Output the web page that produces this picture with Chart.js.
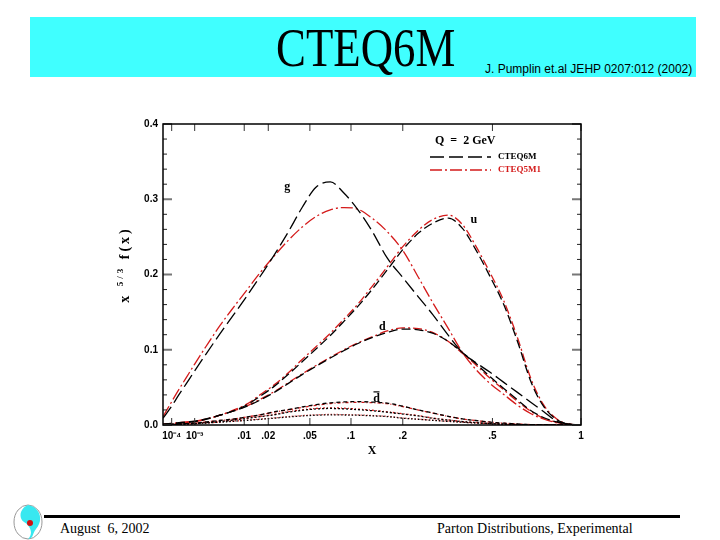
<!DOCTYPE html>
<html>
<head>
<meta charset="utf-8">
<script src="https://cdn.jsdelivr.net/npm/chart.js@4.4.1/dist/chart.umd.min.js"></script>
<style>
body{margin:0;background:#fff;width:720px;height:540px;position:relative;overflow:hidden;font-family:'Liberation Serif','Times New Roman',serif}
#banner{position:absolute;left:30px;top:17px;width:666px;height:60px;background:#40ffff}
#title{position:absolute;left:276px;top:21px;font-size:54px;line-height:54px;white-space:nowrap;transform:scaleX(0.83);transform-origin:left top}
#cite{position:absolute;left:485px;top:63px;font-family:'Liberation Sans',Arial,sans-serif;font-size:12px;line-height:12px;white-space:nowrap}
#rule{position:absolute;left:44px;top:515px;width:636px;height:3px;background:#000}
#date{position:absolute;left:60px;top:522px;font-size:14px;line-height:14px;white-space:pre}
#foot{position:absolute;left:437px;top:522px;font-size:14px;line-height:14px;white-space:nowrap}
#logo{position:absolute;left:10px;top:502px}
#wrap{position:absolute;left:100px;top:110px;width:490px;height:350px}
</style>
</head>
<body>
<div id="banner"></div>
<div id="title">CTEQ6M</div>
<div id="cite">J. Pumplin et.al JEHP 0207:012 (2002)</div>
<svg id="logo" width="36" height="40" viewBox="0 0 36 40">
  <ellipse cx="18" cy="20" rx="14" ry="17" fill="none" stroke="#999" stroke-width="1"/>
  <path d="M18 3 C30 5 34 18 26 27 C22 32 24 36 18 37 C25 30 18 22 14 20 C8 16 10 6 18 3 Z" fill="#38e8f0"/>
  <circle cx="20" cy="21" r="3" fill="#d01010"/>
</svg>
<div id="rule"></div>
<div id="date">August  6, 2002</div>
<div id="foot">Parton Distributions, Experimental</div>
<div id="wrap"><canvas id="mycanvas"></canvas></div>
<script>
// x sample points (momentum fraction)
var xs = [1.8e-5, 1e-4, 2.5e-4, 5e-4, 1e-3, 2e-3, 4e-3, 7e-3, 0.011, 0.016, 0.023, 0.032, 0.043, 0.056, 0.072, 0.09, 0.11,
          0.135, 0.165, 0.2, 0.24, 0.28, 0.33, 0.38, 0.43, 0.49, 0.55, 0.62, 0.69, 0.76, 0.84, 0.92, 1];

// x^(5/3) f(x) at Q = 2 GeV
var g6M  = [0.009, 0.025, 0.040, 0.054, 0.072, 0.094, 0.121, 0.147, 0.172, 0.197, 0.225, 0.256, 0.289, 0.316, 0.323, 0.308, 0.287,
            0.258, 0.222, 0.196, 0.170, 0.147, 0.119, 0.096, 0.083, 0.070, 0.057, 0.043, 0.030, 0.018, 0.005, 0.001, 0];
var g5M1 = [0.011, 0.031, 0.047, 0.062, 0.081, 0.104, 0.132, 0.157, 0.180, 0.202, 0.224, 0.245, 0.263, 0.277, 0.286, 0.289, 0.287,
            0.275, 0.257, 0.232, 0.196, 0.163, 0.128, 0.096, 0.074, 0.055, 0.041, 0.026, 0.015, 0.008, 0.003, 0.0005, 0];
var u6M  = [0.001, 0.002, 0.003, 0.004, 0.005, 0.008, 0.013, 0.019, 0.027, 0.038, 0.051, 0.067, 0.084, 0.101, 0.119, 0.138, 0.157,
            0.180, 0.206, 0.233, 0.255, 0.268, 0.275, 0.261, 0.233, 0.197, 0.161, 0.110, 0.057, 0.025, 0.007, 0.001, 0];
var u5M1 = [0.001, 0.002, 0.003, 0.004, 0.005, 0.008, 0.013, 0.020, 0.028, 0.040, 0.053, 0.069, 0.087, 0.104, 0.122, 0.141, 0.160,
            0.184, 0.210, 0.237, 0.259, 0.273, 0.279, 0.266, 0.238, 0.202, 0.166, 0.115, 0.061, 0.027, 0.008, 0.001, 0];
var d6M  = [0.0008, 0.0015, 0.0023, 0.0032, 0.0045, 0.0075, 0.013, 0.0186, 0.025, 0.033, 0.043, 0.055, 0.067, 0.078, 0.089, 0.099, 0.108,
            0.116, 0.123, 0.1275, 0.1265, 0.122, 0.111, 0.096, 0.082, 0.064, 0.049, 0.033, 0.019, 0.010, 0.004, 0.001, 0];
var d5M1 = [0.0008, 0.0015, 0.0023, 0.0032, 0.0045, 0.0075, 0.013, 0.019, 0.0255, 0.034, 0.044, 0.056, 0.068, 0.079, 0.090, 0.100, 0.109,
            0.117, 0.125, 0.129, 0.128, 0.123, 0.111, 0.095, 0.080, 0.062, 0.047, 0.031, 0.018, 0.009, 0.0035, 0.0008, 0];
var dbar6M  = [0.0005, 0.001, 0.0014, 0.0019, 0.0025, 0.004, 0.006, 0.008, 0.0108, 0.0135, 0.0173, 0.0205, 0.024, 0.027, 0.0295, 0.0307, 0.031,
               0.0305, 0.029, 0.025, 0.020, 0.016, 0.0115, 0.008, 0.006, 0.0038, 0.0025, 0.0013, 0.0006, 0.0002, 0.0001, 0, 0];
var dbar5M1 = [0.0005, 0.001, 0.0014, 0.0019, 0.0025, 0.004, 0.006, 0.008, 0.0108, 0.0135, 0.017, 0.020, 0.0233, 0.0262, 0.0285, 0.0297, 0.030,
               0.0297, 0.0283, 0.0245, 0.0198, 0.0158, 0.0114, 0.008, 0.006, 0.0038, 0.0025, 0.0013, 0.0006, 0.0002, 0.0001, 0, 0];
var ubar6M  = [0.0004, 0.0008, 0.0011, 0.0015, 0.002, 0.003, 0.0045, 0.0068, 0.009, 0.011, 0.0135, 0.017, 0.0195, 0.0213, 0.022, 0.0215, 0.0205,
               0.019, 0.017, 0.0145, 0.012, 0.009, 0.0065, 0.0045, 0.0032, 0.0019, 0.0011, 0.0006, 0.0002, 0.0001, 0, 0, 0];
var ubar5M1 = [0.0004, 0.0008, 0.0011, 0.0015, 0.002, 0.003, 0.0047, 0.007, 0.0093, 0.0114, 0.014, 0.0176, 0.0202, 0.022, 0.0228, 0.0223, 0.0212,
               0.0196, 0.0175, 0.015, 0.0124, 0.0093, 0.0067, 0.0046, 0.0033, 0.002, 0.0011, 0.0006, 0.0002, 0.0001, 0, 0, 0];
var s6M  = [0.0004, 0.0007, 0.0009, 0.0012, 0.0018, 0.0026, 0.0038, 0.005, 0.0062, 0.0075, 0.009, 0.0107, 0.012, 0.013, 0.0135, 0.0133, 0.013,
            0.0122, 0.0112, 0.009, 0.0076, 0.0062, 0.0048, 0.0036, 0.0027, 0.0018, 0.0011, 0.0006, 0.0002, 0.0001, 0, 0, 0];
var s5M1 = [0.0004, 0.0007, 0.0009, 0.0012, 0.0018, 0.0027, 0.004, 0.0052, 0.0065, 0.0078, 0.0094, 0.0111, 0.0125, 0.0135, 0.014, 0.0138, 0.0134,
            0.0126, 0.0115, 0.0093, 0.0078, 0.0064, 0.0049, 0.0037, 0.0027, 0.0018, 0.0011, 0.0006, 0.0002, 0.0001, 0, 0, 0];

var xTickVals = [1e-4, 1e-3, 0.01, 0.02, 0.05, 0.1, 0.2, 0.5, 1];
var xTickLabels = ['10\u207B\u2074', '10\u207B\u00B3', '.01', '.02', '.05', '.1', '.2', '.5', '1'];
var xMin = 1.8e-5;

var black = '#000000';
var red = '#d41a1a';

// x axis is linear in x^(1/3)
function pts(arr) {
  return xs.map(function (x, i) { return {x: Math.cbrt(x), y: arr[i]}; });
}

function line(label, arr, color, dash) {
  return {
    label: label, data: pts(arr), borderColor: color, borderDash: dash,
    borderWidth: 1.3, pointRadius: 0, fill: false,
    cubicInterpolationMode: 'monotone'
  };
}

var datasets = [
  line('g CTEQ6M', g6M, black, [14, 5]),
  line('u CTEQ6M', u6M, black, [9, 4]),
  line('d CTEQ6M', d6M, black, [9, 4]),
  line('dbar CTEQ6M', dbar6M, black, [4, 3]),
  line('ubar CTEQ6M', ubar6M, black, [2, 2]),
  line('s CTEQ6M', s6M, black, [1.5, 2]),
  line('g CTEQ5M1', g5M1, red, [12, 3, 2, 3]),
  line('u CTEQ5M1', u5M1, red, [9, 3, 2, 3]),
  line('d CTEQ5M1', d5M1, red, [9, 3, 2, 3]),
  line('dbar CTEQ5M1', dbar5M1, red, [3, 2, 1, 2]),
  line('ubar CTEQ5M1', ubar5M1, red, [2, 2, 1, 2]),
  line('s CTEQ5M1', s5M1, red, [1, 2])
];

var framePlugin = {
  id: 'frame',
  afterDatasetsDraw: function (chart) {
    var ctx = chart.ctx, a = chart.chartArea, x = chart.scales.x, y = chart.scales.y;
    ctx.save();
    ctx.setLineDash([]);
    // inward ticks
    for (var i = 0; i <= 20; i++) {
      var py = y.getPixelForValue(i * 0.02);
      var major = i % 5 === 0;
      ctx.strokeStyle = major ? '#777' : '#222';
      ctx.lineWidth = major ? 2 : 1;
      var len = major ? 9 : 4;
      ctx.beginPath();
      ctx.moveTo(a.left, py); ctx.lineTo(a.left + len, py);
      ctx.moveTo(a.right, py); ctx.lineTo(a.right - len, py);
      ctx.stroke();
    }
    ctx.strokeStyle = '#333'; ctx.lineWidth = 1;
    xTickVals.forEach(function (v) {
      var px = x.getPixelForValue(Math.cbrt(v));
      ctx.beginPath();
      ctx.moveTo(px, a.bottom); ctx.lineTo(px, a.bottom - 7);
      ctx.moveTo(px, a.top); ctx.lineTo(px, a.top + 7);
      ctx.stroke();
    });
    // frame
    ctx.strokeStyle = '#000'; ctx.lineWidth = 1.5;
    ctx.strokeRect(a.left, a.top, a.right - a.left, a.bottom - a.top);

    // curve labels
    ctx.fillStyle = '#000';
    ctx.font = 'bold 12px "Liberation Serif"';
    ctx.textAlign = 'center'; ctx.textBaseline = 'middle';
    function lab(t, lx, ly) {
      var px = x.getPixelForValue(Math.cbrt(lx)), pyy = y.getPixelForValue(ly);
      ctx.fillText(t, px, pyy);
      return [px, pyy];
    }
    lab('g', 0.0315, 0.316);
    lab('u', 0.422, 0.273);
    lab('d', 0.155, 0.131);
    var p = lab('d', 0.1435, 0.0347);
    ctx.lineWidth = 1.2;
    ctx.beginPath(); ctx.moveTo(p[0] - 3, p[1] - 7); ctx.lineTo(p[0] + 3, p[1] - 7); ctx.stroke();

    // legend
    var lx = a.left + 267, ly = a.top + 33;
    ctx.textAlign = 'left';
    ctx.font = 'bold 12px "Liberation Serif"';
    ctx.fillText('Q  =  2 GeV', a.left + 272, a.top + 17);
    ctx.lineWidth = 1.3;
    ctx.strokeStyle = black; ctx.setLineDash([14, 5]);
    ctx.beginPath(); ctx.moveTo(lx, ly); ctx.lineTo(lx + 61, ly); ctx.stroke();
    ctx.strokeStyle = red; ctx.setLineDash([12, 3, 2, 3]);
    ctx.beginPath(); ctx.moveTo(lx, ly + 13); ctx.lineTo(lx + 61, ly + 13); ctx.stroke();
    ctx.setLineDash([]);
    ctx.font = 'bold 9px "Liberation Serif"';
    ctx.fillStyle = black; ctx.fillText('CTEQ6M', lx + 68, ly);
    ctx.fillStyle = red; ctx.fillText('CTEQ5M1', lx + 68, ly + 13);

    // y axis title: x^{5/3} f(x)
    ctx.fillStyle = '#000';
    ctx.translate(a.left - 38, (a.top + a.bottom) / 2 - 10);
    ctx.rotate(-Math.PI / 2);
    ctx.textAlign = 'left'; ctx.textBaseline = 'alphabetic';
    ctx.letterSpacing = '3px';
    ctx.font = 'bold 14px "Liberation Serif"';
    var w1 = ctx.measureText('x ').width;
    ctx.font = 'bold 9px "Liberation Serif"';
    var w2 = ctx.measureText('5/3').width;
    ctx.font = 'bold 14px "Liberation Serif"';
    var w3 = ctx.measureText(' f(x)').width;
    var sx = -(w1 + w2 + w3) / 2;
    ctx.fillText('x ', sx, 4);
    ctx.font = 'bold 9px "Liberation Serif"';
    ctx.fillText('5/3', sx + w1, -2);
    ctx.font = 'bold 14px "Liberation Serif"';
    ctx.fillText(' f(x)', sx + w1 + w2, 4);
    ctx.restore();
  }
};

var ctx = document.getElementById('mycanvas');
var chart = new Chart(ctx, {
  type: 'line',
  data: {datasets: datasets},
  options: {
    responsive: true,
    maintainAspectRatio: false,
    animation: false,
    devicePixelRatio: 1,
    layout: {padding: {left: 0, top: 14, right: 9, bottom: 0}},
    plugins: {legend: {display: false}, tooltip: {enabled: false}},
    scales: {
      x: {
        type: 'linear',
        min: Math.cbrt(xMin),
        max: 1,
        grid: {display: false, drawTicks: false},
        border: {display: false},
        afterBuildTicks: function (scale) {
          scale.ticks = xTickVals.map(function (v) { return {value: Math.cbrt(v)}; });
        },
        afterFit: function (scale) { scale.height = 35; },
        ticks: {
          autoSkip: false, maxRotation: 0, padding: 5, color: '#000',
          font: {family: '"Liberation Sans"', size: 10, weight: 'bold'},
          callback: function (v, i) { return xTickLabels[i]; }
        },
        title: {display: true, text: 'X', color: '#000', font: {family: '"Liberation Serif"', size: 12, weight: 'bold'}, padding: {top: 2, bottom: 2}}
      },
      y: {
        min: 0,
        max: 0.4,
        grid: {display: false, drawTicks: false},
        border: {display: false},
        afterFit: function (scale) { scale.width = 63; },
        ticks: {
          stepSize: 0.1, padding: 5, color: '#000',
          font: {family: '"Liberation Sans"', size: 10, weight: 'bold'},
          callback: function (v) { return v.toFixed(1); }
        }
      }
    }
  },
  plugins: [framePlugin]
});
</script>
</body>
</html>
